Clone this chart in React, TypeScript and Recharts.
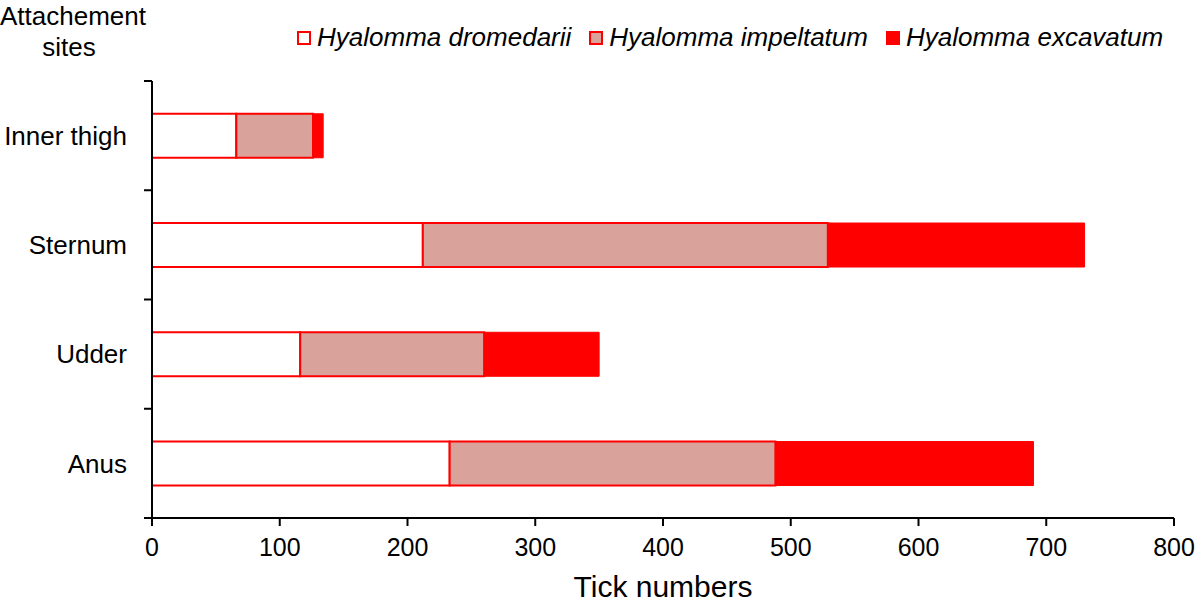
import { Bar, BarChart, XAxis, YAxis } from 'recharts';

const sites = ['Inner thigh', 'Sternum', 'Udder', 'Anus'];
const dromedarii = [66, 212, 116, 233];
const impeltatum = [60, 317, 144, 255];
const excavatum = [8, 201, 90, 202];
const xTicks = [0, 100, 200, 300, 400, 500, 600, 700, 800];

const data = sites.map((site, i) => ({
  site,
  dromedarii: dromedarii[i],
  impeltatum: impeltatum[i],
  excavatum: excavatum[i],
}));

const FONT = '"Liberation Sans", Arial, sans-serif';
const PLOT_LEFT = 152;
const PLOT_TOP = 81;
const PLOT_BOTTOM = 518;
const BAND = (PLOT_BOTTOM - PLOT_TOP) / sites.length;

const legendItems = [
  { name: 'Hyalomma dromedarii', fill: '#ffffff' },
  { name: 'Hyalomma impeltatum', fill: '#d9a29a' },
  { name: 'Hyalomma excavatum', fill: '#ff0000' },
];

const SiteTick = (props: any) => {
  const { y, payload, index } = props;
  return (
    <g>
      <text x={PLOT_LEFT - 25} y={y} dy="0.36em" textAnchor="end" fontSize={26} fill="#000" fontFamily={FONT}>
        {payload.value}
      </text>
      {index === 0 && <line x1={PLOT_LEFT - 8} x2={PLOT_LEFT} y1={y - BAND / 2} y2={y - BAND / 2} stroke="#000" strokeWidth={2} />}
      <line x1={PLOT_LEFT - 8} x2={PLOT_LEFT} y1={y + BAND / 2} y2={y + BAND / 2} stroke="#000" strokeWidth={2} />
    </g>
  );
};

export default function App() {
  return (
    <div style={{ position: 'absolute', left: 0, top: 0, width: 1200, height: 605, background: '#fff', fontFamily: FONT }}>
      <div style={{ position: 'absolute', left: 0, top: 1, width: 138, textAlign: 'center', fontSize: 26, lineHeight: '31px', color: '#000' }}>
        Attachement
        <br />
        sites
      </div>
      <div style={{ position: 'absolute', left: 297, top: 22, display: 'flex', alignItems: 'center', gap: 18 }}>
        {legendItems.map((item) => (
          <div key={item.name} style={{ display: 'flex', alignItems: 'center', gap: 6 }}>
            <span style={{ width: 10, height: 10, border: '2px solid #ff0000', background: item.fill, display: 'inline-block' }} />
            <span style={{ fontStyle: 'italic', fontSize: 26, color: '#000' }}>{item.name}</span>
          </div>
        ))}
      </div>
      <BarChart
        width={1200}
        height={605}
        data={data}
        layout="vertical"
        margin={{ top: PLOT_TOP, right: 26, bottom: 0, left: 0 }}
        barCategoryGap="30%"
      >
        <XAxis
          type="number"
          domain={[0, 800]}
          ticks={xTicks}
          height={87}
          tickSize={8}
          tickMargin={12}
          axisLine={{ stroke: '#000', strokeWidth: 2 }}
          tickLine={{ stroke: '#000', strokeWidth: 2 }}
          tick={{ fontSize: 25, fill: '#000', fontFamily: FONT }}
          label={{ value: 'Tick numbers', position: 'insideBottom', offset: 8, fontSize: 30, fill: '#000', fontFamily: FONT }}
        />
        <YAxis
          type="category"
          dataKey="site"
          width={PLOT_LEFT}
          axisLine={{ stroke: '#000', strokeWidth: 2 }}
          tickLine={false}
          tick={<SiteTick />}
        />
        <Bar dataKey="dromedarii" stackId="a" fill="#ffffff" stroke="#ff0000" strokeWidth={2} isAnimationActive={false} />
        <Bar dataKey="impeltatum" stackId="a" fill="#d9a29a" stroke="#ff0000" strokeWidth={2} isAnimationActive={false} />
        <Bar dataKey="excavatum" stackId="a" fill="#ff0000" stroke="#ff0000" strokeWidth={1} isAnimationActive={false} />
      </BarChart>
    </div>
  );
}
